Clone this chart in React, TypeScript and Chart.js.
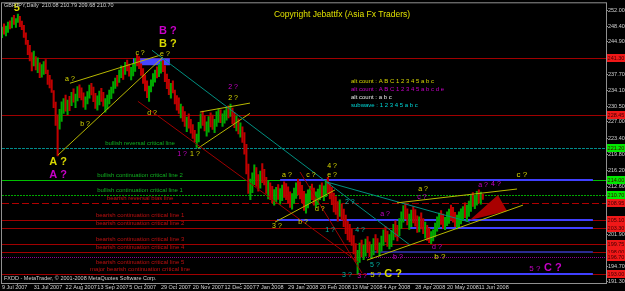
import React, { useEffect, useRef } from 'react';
import { Chart, registerables } from 'chart.js';

Chart.register(...registerables);

const HEADER = 'GBPJPY,Daily  210.08 210.79 209.68 210.70';
const COPYRIGHT = 'Copyright Jebattfx (Asia Fx Traders)';
const FOOTER = 'FXDD - MetaTrader, \u00a9 2001-2008 MetaQuotes Software Corp.';

const SLOT_COUNT = 305;
const TICK_STEP = 16;
const xTickLabels = ['9 Jul 2007', '31 Jul 2007', '22 Aug 2007', '13 Sep 2007', '5 Oct 2007', '29 Oct 2007', '20 Nov 2007', '12 Dec 2007', '7 Jan 2008', '29 Jan 2008', '20 Feb 2008', '13 Mar 2008', '4 Apr 2008', '28 Apr 2008', '20 May 2008', '11 Jun 2008'];
const yTickValues = [252.0, 248.4, 244.9, 241.3, 237.7, 234.1, 230.5, 227.0, 223.4, 219.8, 216.2, 212.6, 209.0, 205.4, 201.9, 198.3, 194.7, 191.3];

const highs = [
  248.2, 248.9, 248.4, 249.3, 249.6, 250.3, 250.8, 250.1, 251.1, 250.6,
  249.5, 248.6, 246.9, 245.2, 244.1, 242.5, 242.8, 241.6, 241.3, 240.2,
  239.8, 240.5, 240.9, 238.6, 237.4, 236.4, 234.0, 231.4, 228.6, 229.8,
  231.5, 232.2, 233.0, 231.9, 232.7, 233.6, 234.4, 233.2, 234.9, 235.3,
  234.6, 233.5, 232.6, 233.8, 235.2, 235.6, 234.8, 233.4, 232.8, 233.9,
  234.5, 233.6, 232.2, 233.0, 234.1, 234.8, 236.0, 236.8, 237.4, 238.6,
  239.5, 239.2, 240.3, 240.8, 239.9, 239.2, 240.1, 241.2, 241.9, 241.6,
  240.0, 238.9, 237.5, 236.2, 235.0, 236.4, 237.8, 238.6, 239.3, 239.8,
  240.5, 240.7, 239.6, 237.7, 236.5, 235.6, 236.2, 234.1, 232.9, 232.4,
  231.0, 230.4, 229.3, 228.1, 228.8, 227.6, 226.4, 225.1, 224.3, 226.9,
  228.8, 229.4, 228.3, 227.0, 228.2, 229.0, 228.5, 227.6, 229.3, 229.9,
  229.7, 228.8, 229.5, 230.2, 230.6, 231.0, 230.1, 229.1, 228.3, 227.7,
  226.8, 225.9, 224.6, 222.0, 217.6, 214.2, 215.6, 217.4, 216.8, 215.2,
  216.0, 217.7, 216.4, 214.6, 213.8, 213.4, 212.6, 211.9, 212.4, 213.0,
  212.1, 212.9, 213.6, 213.2, 212.5, 211.4, 211.0, 212.2, 213.4, 214.2,
  213.6, 212.8, 211.5, 210.9, 211.8, 212.6, 213.1, 212.2, 211.4, 212.0,
  212.9, 213.4, 212.7, 213.9, 214.6, 213.2, 212.4, 211.1, 210.3, 209.2,
  209.6, 208.7, 207.5, 206.2, 204.8, 204.1, 203.0, 201.6, 199.8, 198.3,
  199.9, 200.6, 199.5, 200.8, 201.4, 200.2, 199.6, 200.9, 201.8, 200.9,
  200.0, 201.5, 202.9, 203.6, 202.6, 201.8, 202.7, 204.1, 204.9, 203.9,
  205.4, 206.9, 208.3, 208.8, 207.6, 206.4, 207.3, 208.1, 207.4, 206.0,
  205.8, 206.7, 205.4, 204.6, 203.9, 203.3, 202.5, 202.9, 204.4, 205.8,
  206.6, 207.2, 206.4, 205.7, 206.9, 207.5, 208.4, 207.9, 206.8, 206.2,
  206.9, 207.6, 208.1, 208.9, 208.4, 209.3, 210.4, 211.2, 210.6, 211.5,
  211.8, 211.3, 210.8,
];
const lows = [
  245.8, 246.6, 246.2, 247.0, 247.8, 248.0, 248.8, 248.1, 249.2, 248.3,
  247.6, 245.9, 244.3, 242.0, 240.6, 238.4, 239.5, 238.6, 238.0, 236.9,
  237.0, 237.6, 237.8, 235.4, 234.6, 233.6, 230.2, 226.2, 219.4, 225.4,
  227.1, 228.9, 229.4, 228.6, 229.5, 230.6, 231.4, 230.2, 231.7, 232.4,
  231.9, 230.3, 229.8, 231.0, 232.3, 233.0, 231.5, 230.0, 229.6, 230.8,
  231.6, 230.5, 229.2, 229.9, 231.0, 232.2, 233.4, 234.5, 235.0, 235.8,
  236.9, 236.5, 237.6, 238.4, 237.2, 236.4, 237.3, 238.3, 239.5, 238.9,
  237.4, 235.6, 233.9, 232.4, 231.6, 233.7, 235.0, 235.9, 236.8, 237.1,
  237.9, 238.2, 236.0, 234.4, 233.1, 232.3, 233.5, 231.0, 229.6, 228.9,
  227.9, 227.1, 226.0, 224.8, 225.6, 224.5, 223.3, 222.6, 221.3, 222.5,
  225.6, 226.2, 225.0, 223.8, 224.7, 225.9, 225.3, 224.6, 226.0, 226.9,
  226.8, 226.0, 226.7, 227.4, 227.9, 228.2, 226.6, 225.7, 225.0, 224.3,
  223.6, 222.4, 219.8, 215.4, 211.0, 209.6, 211.2, 213.0, 212.6, 211.5,
  212.2, 213.4, 212.9, 211.0, 209.8, 209.6, 208.9, 208.4, 209.2, 209.7,
  208.6, 209.4, 210.1, 209.6, 208.8, 207.9, 207.5, 208.8, 209.9, 210.7,
  209.8, 208.9, 207.2, 206.6, 207.8, 209.0, 209.6, 208.4, 207.9, 208.5,
  209.6, 210.2, 209.4, 210.3, 211.2, 209.8, 208.5, 206.9, 206.3, 204.8,
  205.9, 205.1, 203.6, 202.0, 200.6, 200.2, 199.4, 197.5, 195.8, 193.0,
  195.6, 196.8, 196.2, 197.0, 197.9, 196.9, 196.5, 197.3, 198.4, 197.8,
  197.0, 198.1, 199.4, 200.2, 199.2, 198.6, 199.1, 200.6, 201.3, 200.4,
  201.6, 203.2, 204.6, 205.3, 204.0, 203.0, 203.6, 204.4, 203.7, 202.3,
  202.4, 203.1, 202.0, 201.0, 200.5, 200.0, 199.8, 200.4, 201.3, 202.6,
  203.4, 204.1, 203.2, 202.9, 203.8, 204.3, 205.0, 204.6, 203.6, 203.1,
  203.6, 204.2, 204.9, 205.6, 204.8, 205.9, 207.0, 208.1, 207.6, 208.4,
  208.9, 208.6, 209.7,
];
const closes = [
  247.6, 246.9, 248.1, 249.0, 248.4, 250.0, 249.2, 249.9, 250.2, 248.7,
  248.0, 246.3, 244.8, 242.6, 241.2, 240.9, 241.3, 239.4, 239.9, 237.6,
  239.1, 240.2, 238.3, 236.0, 235.5, 234.3, 230.9, 227.0, 226.8, 228.9,
  230.4, 231.5, 230.1, 231.4, 231.0, 232.9, 232.0, 233.0, 234.6, 233.2,
  232.4, 231.1, 232.2, 233.5, 234.7, 233.4, 232.0, 230.5, 232.5, 233.1,
  232.0, 230.9, 231.8, 232.7, 233.6, 234.3, 235.6, 236.3, 235.8, 238.0,
  238.7, 238.1, 240.0, 239.0, 238.0, 238.5, 239.8, 240.9, 240.2, 239.4,
  237.9, 236.3, 234.4, 233.0, 234.6, 236.1, 237.5, 238.2, 237.6, 239.4,
  240.1, 238.8, 236.6, 235.0, 233.8, 235.1, 233.9, 231.6, 231.2, 229.4,
  230.1, 227.8, 226.5, 227.9, 226.3, 225.0, 224.0, 223.4, 223.9, 226.3,
  228.2, 226.8, 225.6, 226.6, 227.7, 226.4, 225.9, 227.1, 228.9, 229.2,
  227.4, 228.3, 229.0, 229.6, 228.5, 229.1, 227.2, 226.2, 227.5, 224.9,
  225.5, 223.0, 220.3, 216.0, 212.3, 213.6, 215.0, 216.3, 213.2, 212.4,
  215.3, 214.2, 213.5, 211.6, 212.9, 210.2, 209.5, 211.3, 211.9, 210.6,
  211.6, 212.4, 210.9, 210.3, 209.6, 208.6, 210.5, 211.8, 213.0, 212.2,
  210.4, 209.6, 208.1, 210.2, 211.2, 212.1, 210.2, 209.0, 211.0, 211.7,
  212.5, 211.0, 212.3, 213.6, 212.4, 210.6, 209.0, 207.8, 207.1, 205.6,
  208.1, 206.0, 204.2, 202.8, 201.4, 201.0, 200.5, 198.0, 196.4, 197.5,
  199.2, 197.5, 198.8, 200.3, 198.6, 197.4, 199.1, 200.6, 199.0, 198.5,
  199.6, 201.2, 202.4, 200.8, 200.0, 201.3, 202.4, 203.7, 202.0, 201.1,
  205.0, 206.4, 207.9, 206.0, 204.7, 205.9, 206.8, 205.0, 204.2, 203.0,
  205.2, 203.5, 202.6, 203.8, 201.2, 200.6, 202.1, 202.4, 204.0, 205.2,
  205.9, 204.6, 203.7, 205.5, 206.4, 207.0, 205.4, 205.0, 204.1, 205.7,
  206.3, 207.3, 207.8, 205.9, 207.9, 209.0, 210.0, 208.7, 210.2, 210.9,
  209.4, 210.8, 210.7,
];

// horizontal levels
const levelValues = [241.3, 228.45, 221.2, 214.0, 210.7, 208.95, 205.1, 203.3, 199.75, 198.0, 196.7, 193.0];
const levelNames = ['', '', 'bullish reversal critical line', 'bullish continuation critical line 2', 'bullish continuation critical line 1', 'bearish reversal bias line', 'bearish continuation critical line 1', 'bearish continuation critical line 2', 'bearish continuation critical line 3', 'bearish continuation critical line 4', 'bearish continuation critical line 5', 'major bearish continuation critical line'];
const levelKinds = ['red', 'red', 'teal', 'green', 'greenDot', 'redDash', 'red', 'red', 'red', 'red', 'purpleDot', 'red'];
const levelTagKinds = ['r', 'r', 'g', 'g', 'g', 'r', 'r', 'r', 'r', 'r', 'r', 'r'];
const LEVEL_TEXT_INDEX = 69.5;

// blue zone segments (start index, end index, price)
const zoneStart = [140, 138.4, 205.3, 186.2, 183.7];
const zoneEnd = [297.4, 297.4, 297.4, 297.4, 297.4];
const zonePrice = [214.0, 205.1, 203.3, 198.0, 193.0];
const zoneKinds = ['b', 'b', 'b', 'd', 'b'];

// box on top (start index, end index, top price, bottom price)
const boxRange = [65.9, 84.5, 241.22, 239.66];

// trend lines: [index1, price1, index2, price2]
const trendLines = [
  [28.2, 219.6, 81.0, 241.45],
  [34.2, 235.64, 79.5, 241.9],
  [99.6, 229.2, 124.8, 231.2],
  [98.6, 221.1, 124.8, 228.9],
  [75.5, 243.0, 205.3, 199.5],
  [68.4, 231.6, 179.2, 195.7],
  [150, 215.8, 181.2, 193.2],
  [163.6, 213.55, 235.5, 204.6],
  [183.7, 196.1, 262.2, 208.4],
  [198.8, 208.9, 259.2, 212.0],
  [137.4, 204.6, 167.6, 211.8],
];
const trendKinds = ['y', 'y', 'y', 'y', 't', 'r', 'r', 't', 'y', 'y', 'y'];

const trianglePoints = [[235.5, 205.06], [249.6, 210.64], [254.2, 207.07]];

// wave labels: text, index, price, colour key, big?
const waveLabels: [string, number, number, string, number][] = [
  ['5', 7.5, 252.4, 'y', 2],
  ['a ?', 34.2, 236.5, 'y', 0],
  ['b ?', 41.8, 226.5, 'y', 0],
  ['c ?', 69.5, 242.3, 'y', 0],
  ['e ?', 82.0, 242.1, 'y', 0],
  ['B ?', 83.5, 247.25, 'm', 1],
  ['B ?', 83.5, 244.35, 'y', 1],
  ['d ?', 75.5, 228.95, 'y', 0],
  ['A ?', 28.2, 218.0, 'y', 1],
  ['A ?', 28.2, 215.1, 'm', 1],
  ['1 ?', 90.6, 219.8, 'm', 0],
  ['1 ?', 97.1, 219.8, 'y', 0],
  ['2 ?', 116.3, 234.75, 'm', 0],
  ['2 ?', 116.3, 232.3, 'y', 0],
  ['a ?', 143.4, 215.1, 'y', 0],
  ['c ?', 155.5, 215.1, 'y', 0],
  ['e ?', 166.1, 215.1, 'y', 0],
  ['4 ?', 166.1, 217.1, 'y', 0],
  ['d ?', 160, 207.5, 'y', 0],
  ['3 ?', 138.4, 203.7, 'y', 0],
  ['b ?', 151.5, 204.6, 'y', 0],
  ['2 ?', 175.1, 209.1, 't', 0],
  ['1 ?', 165.1, 202.8, 't', 0],
  ['4 ?', 180.2, 202.8, 't', 0],
  ['a ?', 192.8, 206.4, 'm', 0],
  ['c ?', 211.4, 210.2, 'm', 0],
  ['a ?', 211.9, 212.0, 'y', 0],
  ['d ?', 218.9, 199.0, 'm', 0],
  ['b ?', 220.4, 196.8, 'y', 3],
  ['b ?', 199.3, 196.8, 'm', 0],
  ['5 ?', 187.7, 195.0, 't', 0],
  ['3 ?', 173.6, 192.8, 't', 0],
  ['3 ?', 181.2, 192.55, 'm', 0],
  ['5 ?', 188.2, 192.8, 'y', 3],
  ['C ?', 196.8, 193.0, 'y', 1],
  ['5 ?', 268.2, 194.1, 'm', 3],
  ['C ?', 277.3, 194.35, 'm', 1],
  ['c ?', 261.7, 215.1, 'y', 3],
  ['a ?', 242.1, 212.9, 'm', 0],
  ['4 ?', 248.6, 213.1, 'm', 0],
];

const legendLines = ['alt count : A B C 1 2 3 4 5 a b c', 'alt count : A B C 1 2 3 4 5 a b c d e', 'alt count : a b c', 'subwave : 1 2 3 4 5 a b c'];
const legendKinds = ['y', 'm', 'w', 'c'];

const FONT = '"Liberation Sans", Arial, sans-serif';
const COL: Record<string, string> = { y: '#d8d800', m: '#c800c8', t: '#00b8a8', w: '#e8e8e8', c: '#00d8d8', r: '#a00000' };
const LEVEL_STYLE: Record<string, { c: string; w: number; d: number[] }> = {
  red: { c: '#a00000', w: 1, d: [] },
  teal: { c: '#008b8b', w: 1, d: [3, 1] },
  green: { c: '#00c000', w: 1, d: [] },
  greenDot: { c: '#00a800', w: 1, d: [2, 1] },
  redDash: { c: '#b00000', w: 1, d: [7, 3] },
  purpleDot: { c: '#900090', w: 1, d: [1, 1] },
};
const TREND_COL: Record<string, string> = { y: '#b8b800', t: '#008f80', r: '#a00000' };
const WAVE_SIZE = [7, 11, 11, 8];

function text(ctx: CanvasRenderingContext2D, s: string, x: number, y: number, color: string, size: number, align: CanvasTextAlign = 'center', weight = 'normal') {
  ctx.font = `${weight} ${size}px ${FONT}`;
  ctx.fillStyle = color;
  ctx.textAlign = align;
  ctx.textBaseline = 'middle';
  ctx.fillText(s, x, y);
}

const overlay = {
  id: 'overlay',
  beforeDraw(chart: any) {
    const { ctx, width, height } = chart;
    ctx.save();
    ctx.fillStyle = '#000';
    ctx.fillRect(0, 0, width, height);
    ctx.restore();
  },
  beforeDatasetsDraw(chart: any) {
    const { ctx, chartArea: a, scales } = chart;
    const x = scales.x, y = scales.y;
    ctx.save();
    ctx.beginPath();
    ctx.rect(a.left, a.top, a.right - a.left, a.bottom - a.top);
    ctx.clip();
    levelValues.forEach((v, k) => {
      const st = LEVEL_STYLE[levelKinds[k]];
      const py = Math.round(y.getPixelForValue(v)) + 0.5;
      ctx.strokeStyle = st.c;
      ctx.lineWidth = st.w;
      ctx.setLineDash(st.d);
      ctx.beginPath();
      ctx.moveTo(a.left, py);
      ctx.lineTo(a.right, py);
      ctx.stroke();
    });
    ctx.setLineDash([]);
    zonePrice.forEach((p, k) => {
      const py = Math.round(y.getPixelForValue(p));
      ctx.strokeStyle = zoneKinds[k] === 'b' ? '#4040ff' : '#2a2a90';
      ctx.lineWidth = 2;
      ctx.beginPath();
      ctx.moveTo(x.getPixelForValue(zoneStart[k]), py);
      ctx.lineTo(x.getPixelForValue(zoneEnd[k]), py);
      ctx.stroke();
    });
    const bx1 = x.getPixelForValue(boxRange[0]);
    const bx2 = x.getPixelForValue(boxRange[1]);
    const by1 = y.getPixelForValue(boxRange[2]);
    const by2 = y.getPixelForValue(boxRange[3]);
    ctx.fillStyle = '#4646ff';
    ctx.fillRect(bx1, by1, bx2 - bx1, by2 - by1);
    ctx.restore();
  },
  afterDatasetsDraw(chart: any) {
    const { ctx, chartArea: a, scales } = chart;
    const x = scales.x, y = scales.y;
    ctx.save();
    ctx.beginPath();
    ctx.rect(a.left, a.top, a.right - a.left, a.bottom - a.top);
    ctx.clip();
    // triangle
    ctx.fillStyle = '#a80000';
    ctx.beginPath();
    trianglePoints.forEach(([i, p], k) => {
      const X = x.getPixelForValue(i), Y = y.getPixelForValue(p);
      if (k === 0) ctx.moveTo(X, Y); else ctx.lineTo(X, Y);
    });
    ctx.closePath();
    ctx.fill();
    // trend lines
    ctx.lineWidth = 1;
    trendLines.forEach((t, k) => {
      ctx.strokeStyle = TREND_COL[trendKinds[k]];
      ctx.beginPath();
      ctx.moveTo(x.getPixelForValue(t[0]), y.getPixelForValue(t[1]));
      ctx.lineTo(x.getPixelForValue(t[2]), y.getPixelForValue(t[3]));
      ctx.stroke();
    });
    // level texts
    levelValues.forEach((v, k) => {
      if (!levelNames[k]) return;
      const py = y.getPixelForValue(v);
      const off = levelKinds[k] === 'purpleDot' ? 4.5 : -4.5;
      const col = levelNames[k].startsWith('bullish') ? '#10b020' : '#c01010';
      text(ctx, levelNames[k], x.getPixelForValue(LEVEL_TEXT_INDEX), py + off, col, 6);
    });
    // wave labels
    waveLabels.forEach(([s, i, p, c, big]) => {
      text(ctx, s, x.getPixelForValue(i), y.getPixelForValue(p), COL[c], WAVE_SIZE[big], 'center', big === 1 || big === 2 ? 'bold' : 'normal');
    });
    ctx.restore();
  },
  afterDraw(chart: any) {
    const { ctx, chartArea: a, scales } = chart;
    const y = scales.y;
    ctx.save();
    ctx.strokeStyle = '#909090';
    ctx.lineWidth = 1;
    ctx.strokeRect(a.left - 0.5, a.top - 0.5, a.right - a.left + 1, a.bottom - a.top + 1);
    // price tags
    levelValues.forEach((v, k) => {
      const py = Math.round(y.getPixelForValue(v));
      ctx.fillStyle = levelTagKinds[k] === 'g' ? '#00e800' : '#f01818';
      ctx.fillRect(a.right + 1, py - 4, 18, 8);
      text(ctx, v.toFixed(2), a.right + 10, py + 0.5, '#400000', 5.5);
    });
    text(ctx, HEADER, 4, 5, '#d0d0d0', 5.5, 'left');
    text(ctx, FOOTER, 4, 278, '#d0d0d0', 5.5, 'left');
    text(ctx, COPYRIGHT, 342, 15, '#e0e000', 8.5, 'center');
    legendLines.forEach((s, k) => {
      text(ctx, s, 351, 81 + k * 8, COL[legendKinds[k]], 6, 'left');
    });
    ctx.restore();
  },
};

export default function App() {
  const ref = useRef<HTMLCanvasElement | null>(null);
  useEffect(() => {
    document.body.style.margin = '0';
    document.body.style.background = '#000';
    const labels = Array.from({ length: SLOT_COUNT }, (_, i) => String(i));
    const barData = highs.map((h, i) => [lows[i], h]);
    const barColors = closes.map((c, i) => (i === 0 || c >= closes[i - 1] ? '#00a800' : '#c00000'));
    const chart = new Chart(ref.current as HTMLCanvasElement, {
      type: 'bar',
      data: {
        labels,
        datasets: [
          {
            data: barData as any,
            backgroundColor: barColors,
            borderWidth: 0,
            barThickness: 1.4,
          },
        ],
      },
      options: {
        animation: false,
        responsive: false,
        devicePixelRatio: 1,
        layout: { padding: { left: 2, top: 3, right: 0, bottom: 0 } },
        plugins: { legend: { display: false }, tooltip: { enabled: false } },
        scales: {
          x: {
            type: 'category',
            offset: false,
            grid: { display: true, drawOnChartArea: false, drawTicks: true, tickLength: 2, color: '#909090' },
            border: { display: false },
            ticks: {
              autoSkip: false,
              maxRotation: 0,
              minRotation: 0,
              align: 'start',
              padding: -1,
              color: '#d0d0d0',
              font: { size: 5.5, family: FONT },
              callback: (value: any) => {
                const v = Number(value);
                return v % TICK_STEP === 0 ? xTickLabels[v / TICK_STEP] || '' : '';
              },
            },
            afterBuildTicks: (scale: any) => {
              scale.ticks = scale.ticks.filter((t: any) => t.value % TICK_STEP === 0 && t.value / TICK_STEP < xTickLabels.length);
            },
            afterFit: (scale: any) => {
              scale.height = 8;
            },
          },
          y: {
            position: 'right',
            min: 191.0,
            max: 253.5,
            grid: { display: true, drawOnChartArea: false, drawTicks: true, tickLength: 2, color: '#909090' },
            border: { display: false },
            ticks: {
              autoSkip: false,
              padding: 0,
              color: '#d0d0d0',
              font: { size: 5.5, family: FONT },
              callback: (value: any) => Number(value).toFixed(2),
            },
            afterBuildTicks: (scale: any) => {
              scale.ticks = yTickValues.map((v) => ({ value: v }));
            },
            afterFit: (scale: any) => {
              scale.width = 19;
            },
          },
        },
      },
      plugins: [overlay],
    });
    return () => chart.destroy();
  }, []);
  return <canvas ref={ref} width={625} height={291} style={{ display: 'block', width: 625, height: 291 }} />;
}
